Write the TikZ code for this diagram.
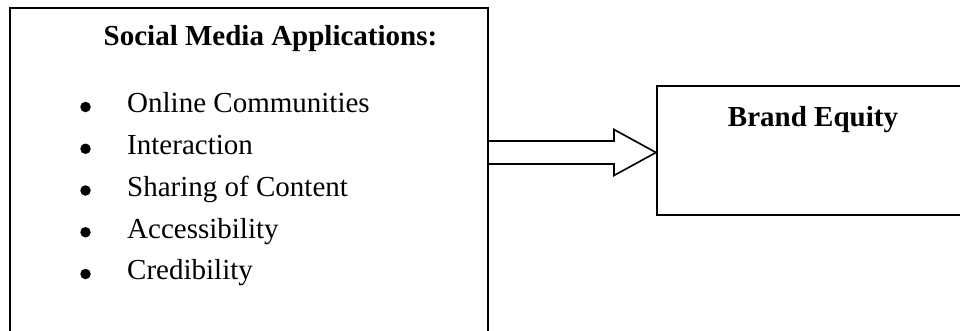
\documentclass[tikz,border=0pt]{standalone}
\usepackage{fontspec}
\setmainfont{Liberation Serif}
\usetikzlibrary{positioning, calc}

\newcommand{\diagfont}{\fontsize{11.6}{14}\selectfont}

\begin{document}
\begin{tikzpicture}[
    x=1pt, y=1pt,
    font=\diagfont,
    box/.style={draw, line width=0.8pt, inner sep=0pt, anchor=south west},
    heading/.style={font=\diagfont\bfseries, anchor=base, inner sep=0pt},
    item/.style={anchor=base west, inner sep=0pt, text height=8pt, text depth=2.5pt},
    bulletmark/.style={circle, fill, inner sep=0pt, minimum size=4.2pt},
    blockarrow/.style={draw, line width=0.65pt}
]
    % the picture is cut at the right and bottom edges
    \clip (0,0) rectangle (384,132);

    % --- 1. the two boxes ---
    \node [box, minimum width=191.2pt, minimum height=130.8pt] (apps) at (3.6, -2.4) {};
    \node [box, minimum width=123.6pt, minimum height=51.6pt] (equity) at (262.4, 45.6) {};

    % --- 2. left box: heading and list ---
    \node [heading] (title) at (108.2, 114) {Social Media Applications:};

    \node [item] (online) at (50.7, 86.9) {Online Communities};
    \node [item, below=5.8pt of online.south west, anchor=north west] (interact) {Interaction};
    \node [item, below=5.8pt of interact.south west, anchor=north west] (sharing) {Sharing of Content};
    \node [item, below=5.8pt of sharing.south west, anchor=north west] (access) {Accessibility};
    \node [item, below=5.8pt of access.south west, anchor=north west] (cred) {Credibility};

    \node [bulletmark] (b1) at ([xshift=-16.5pt, yshift=2.3pt]online.base west) {};
    \node [bulletmark] (b2) at ([xshift=-16.5pt, yshift=2.3pt]interact.base west) {};
    \node [bulletmark] (b3) at ([xshift=-16.5pt, yshift=2.3pt]sharing.base west) {};
    \node [bulletmark] (b4) at ([xshift=-16.5pt, yshift=2.3pt]access.base west) {};
    \node [bulletmark] (b5) at ([xshift=-16.5pt, yshift=2.3pt]cred.base west) {};

    % --- 3. right box ---
    \node [heading] (brand) at (325.2, 81.3) {Brand Equity};

    % --- 4. block arrow ---
    \coordinate (tip) at ([yshift=-0.8pt]equity.west);
    \coordinate (tail) at (apps.east |- tip);
    \draw [blockarrow] ($(tail)+(0,4.6)$) -- ($(tip)+(-16.8,4.6)$)
        -- ($(tip)+(-16.8,9.2)$) -- (tip)
        -- ($(tip)+(-16.8,-9.2)$) -- ($(tip)+(-16.8,-4.6)$)
        -- ($(tail)+(0,-4.6)$);

\end{tikzpicture}
\end{document}
